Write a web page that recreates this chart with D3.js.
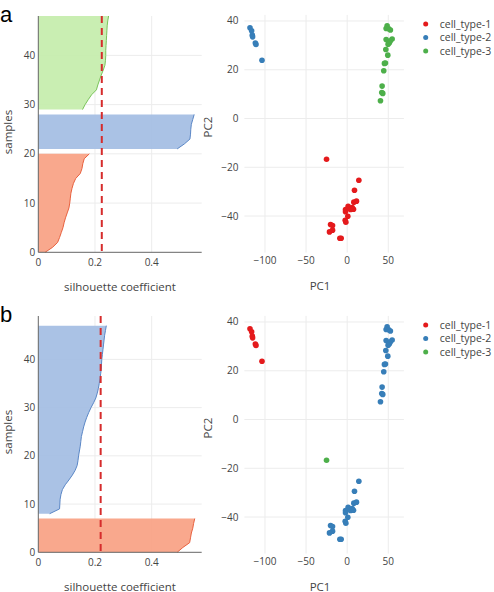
<!DOCTYPE html>
<html>
<head>
<meta charset="utf-8">
<script src="https://cdn.jsdelivr.net/npm/d3@7"></script>
<style>
  body { margin: 0; background: #fff; }
  svg text { font-family: "Open Sans", "DejaVu Sans", sans-serif; fill: #444; }
</style>
</head>
<body>
<div id="chart"></div>
<script>
// ---- data ----
const clusterNames = ['cell_type-1', 'cell_type-2', 'cell_type-3'];
const pointColors = ['#e41a1c', '#377eb8', '#4daf4a'];
const fillColors = ['#f9a183', '#a3bde3', '#c4edab'];
const lineColors = ['#e8613f', '#5b87c6', '#79c35a'];

// PCA coordinates (same samples in both panels)
const pc1 = [-118.2, -116.2, -115.4, -115, -111.7, -110.9, -103.6,
  -25.1,
  14.2, 8.9, 8.1, 11.3, 1.2, 6.1, -2, -2, 4, 7.7, 0.8, -2.4, -1.6, -20.2, -17.8, -17.8, -21.5, -8.9, -7.3,
  48.6, 47.4, 50.6, 52.6, 47.4, 54.7, 52.6, 51.4, 49.8, 47, 49.4, 46.6, 45.3, 44.5, 42.5, 42.1, 43.3, 40.5];
const pc2 = [37.2, 36, 34.2, 33.5, 31, 30.4, 23.9,
  -16.7,
  -25.3, -29.4, -34.3, -33.9, -36, -36.5, -37.3, -38.2, -37.3, -37.2, -40.1, -41.7, -42.5, -43.5, -43.9, -45.8, -46.5, -49.1, -49.1,
  38, 36.9, 36.8, 36.3, 32.4, 32.6, 31.9, 31.1, 30.5, 28.3, 26, 22.8, 22.6, 19.6, 13.3, 10.7, 10.3, 7.3];

// cluster labels (0-based) for panel a and panel b
const labelsA = [1, 1, 1, 1, 1, 1, 1,
  0,
  0, 0, 0, 0, 0, 0, 0, 0, 0, 0, 0, 0, 0, 0, 0, 0, 0, 0, 0,
  2, 2, 2, 2, 2, 2, 2, 2, 2, 2, 2, 2, 2, 2, 2, 2, 2, 2];
const labelsB = [0, 0, 0, 0, 0, 0, 0,
  2,
  1, 1, 1, 1, 1, 1, 1, 1, 1, 1, 1, 1, 1, 1, 1, 1, 1, 1, 1,
  1, 1, 1, 1, 1, 1, 1, 1, 1, 1, 1, 1, 1, 1, 1, 1, 1, 1];

// sorted silhouette values per cluster, with the sample index they start at
const silA1 = [0.024, 0.05, 0.068, 0.075, 0.081, 0.087, 0.091, 0.096, 0.102, 0.108, 0.111,
  0.113, 0.115, 0.119, 0.124, 0.132, 0.148, 0.154, 0.157, 0.162, 0.18];
const silA2 = [0.49, 0.515, 0.535, 0.537, 0.538, 0.54, 0.545, 0.55];
const silA3 = [0.156, 0.165, 0.176, 0.188, 0.205, 0.21, 0.216, 0.222, 0.229, 0.235,
  0.237, 0.238, 0.238, 0.239, 0.24, 0.241, 0.242, 0.243, 0.245, 0.248];
const startA = [0, 21, 29];
const meanA = 0.224;

const silB1 = [0.49, 0.51, 0.534, 0.537, 0.54, 0.545, 0.548, 0.552];
const silB2 = [0.04, 0.075, 0.076, 0.077, 0.08, 0.085, 0.095, 0.108, 0.12, 0.13,
  0.137, 0.14, 0.142, 0.145, 0.148, 0.15, 0.152, 0.156, 0.16, 0.165,
  0.171, 0.178, 0.186, 0.195, 0.203, 0.208, 0.212, 0.215, 0.218, 0.22,
  0.222, 0.223, 0.224, 0.226, 0.228, 0.23, 0.232, 0.234, 0.237, 0.24];
const silB3 = [0];
const startB = [0, 8, 48];
const meanB = 0.22;

const silTicksX = [0, 0.2, 0.4];
const silTicksY = [0, 10, 20, 30, 40];
const pcTicksX = [-100, -50, 0, 50];
const pcTicksY = [-40, -20, 0, 20, 40];

// ---- drawing ----
const svg = d3.select('#chart').append('svg')
    .attr('width', 494)
    .attr('height', 592);

const gridColor = '#ececec';

function drawSilhouette(g, top, yMax, sils, starts, mean) {
  const x = d3.scaleLinear().domain([0, 0.5765]).range([38.3, 201.7]);
  const y = d3.scaleLinear().domain([0, yMax]).range([top + 236.3, top]);
  const [x0, x1] = x.range();
  const [yb, yt] = y.range();

  // grid
  g.selectAll('.vgrid').data(silTicksX.filter(d => d > 0)).join('line')
      .attr('x1', d => x(d)).attr('x2', d => x(d))
      .attr('y1', yt).attr('y2', yb)
      .attr('stroke', gridColor);
  g.selectAll('.hgrid').data(silTicksY.filter(d => d > 0)).join('line')
      .attr('x1', x0).attr('x2', x1)
      .attr('y1', d => y(d)).attr('y2', d => y(d))
      .attr('stroke', gridColor);

  // silhouettes
  sils.forEach((vals, c) => {
    if (vals.length < 2) return;
    const pts = vals.map((v, i) => [v, starts[c] + i]);
    g.append('path')
        .datum(pts)
        .attr('d', d3.area().x0(x(0)).x1(d => x(d[0])).y(d => y(d[1])))
        .attr('fill', fillColors[c])
        .attr('fill-opacity', 0.92);
    g.append('path')
        .datum(pts)
        .attr('d', d3.line().x(d => x(d[0])).y(d => y(d[1])))
        .attr('fill', 'none')
        .attr('stroke', lineColors[c])
        .attr('stroke-width', 1);
  });

  // mean line
  g.append('line')
      .attr('x1', x(mean)).attr('x2', x(mean))
      .attr('y1', yt).attr('y2', yb)
      .attr('stroke', '#d62c2c')
      .attr('stroke-width', 2)
      .attr('stroke-dasharray', '7,5');

  // axis lines
  g.append('line').attr('x1', x0).attr('x2', x0).attr('y1', yt).attr('y2', yb)
      .attr('stroke', '#666').attr('stroke-width', 1);
  g.append('line').attr('x1', x0).attr('x2', x1).attr('y1', yb).attr('y2', yb)
      .attr('stroke', '#666').attr('stroke-width', 1);

  g.selectAll('.xt').data(silTicksX).join('text')
      .attr('x', d => x(d)).attr('y', yb + 14)
      .attr('text-anchor', 'middle')
      .style('font-size', '10px')
      .text(d => d === 0 ? '0' : d.toFixed(1));
  g.selectAll('.yt').data(silTicksY).join('text')
      .attr('x', x0 - 3).attr('y', d => y(d) + 3.5)
      .attr('text-anchor', 'end')
      .style('font-size', '10px')
      .text(d => d);

  g.append('text')
      .attr('x', 120).attr('y', yb + 39)
      .attr('text-anchor', 'middle')
      .style('font-size', '11.5px')
      .text('silhouette coefficient');
  g.append('text')
      .attr('transform', `translate(12,${top + 116}) rotate(-90)`)
      .attr('text-anchor', 'middle')
      .style('font-size', '11.5px')
      .text('samples');
}

function drawScatter(g, top, labels) {
  const x = d3.scaleLinear().domain([-125, 69]).range([244.4, 403.9]);
  const y = d3.scaleLinear().domain([-55, 42.5]).range([top + 252.6, top + 14.9]);
  const [x0, x1] = x.range();
  const [yb, yt] = y.range();

  g.selectAll('.vgrid').data(pcTicksX).join('line')
      .attr('x1', d => x(d)).attr('x2', d => x(d))
      .attr('y1', yt).attr('y2', yb)
      .attr('stroke', gridColor);
  g.selectAll('.hgrid').data(pcTicksY).join('line')
      .attr('x1', x0).attr('x2', x1)
      .attr('y1', d => y(d)).attr('y2', d => y(d))
      .attr('stroke', gridColor);

  const pts = pc1.map((v, i) => ({x: v, y: pc2[i], c: labels[i]}));
  g.selectAll('.pt').data(pts).join('circle')
      .attr('cx', d => x(d.x))
      .attr('cy', d => y(d.y))
      .attr('r', 2.8)
      .attr('fill', d => pointColors[d.c]);

  g.selectAll('.xt').data(pcTicksX).join('text')
      .attr('x', d => x(d)).attr('y', yb + 11.5)
      .attr('text-anchor', 'middle')
      .style('font-size', '10px')
      .text(d => d < 0 ? '\u2212' + Math.abs(d) : d);
  g.selectAll('.yt').data(pcTicksY).join('text')
      .attr('x', 238.5).attr('y', d => y(d) + 3.5)
      .attr('text-anchor', 'end')
      .style('font-size', '10px')
      .text(d => d < 0 ? '\u2212' + Math.abs(d) : d);

  g.append('text')
      .attr('x', 320).attr('y', top + 290)
      .attr('text-anchor', 'middle')
      .style('font-size', '11.5px')
      .text('PC1');
  g.append('text')
      .attr('transform', `translate(212,${top + 127}) rotate(-90)`)
      .attr('text-anchor', 'middle')
      .style('font-size', '11.5px')
      .text('PC2');

  // legend
  const leg = g.selectAll('.leg').data(clusterNames).join('g')
      .attr('transform', (d, i) => `translate(425.7,${top + 24 + i * 13.5})`);
  leg.append('circle').attr('r', 2.5).attr('fill', (d, i) => pointColors[i]);
  leg.append('text').attr('x', 14).attr('y', 3.8)
      .style('font-size', '10.5px')
      .text(d => d);
}

const ga = svg.append('g');
drawSilhouette(ga, 16, 48, [silA1, silA2, silA3], startA, meanA);
drawScatter(svg.append('g'), 0, labelsA);

const gb = svg.append('g');
drawSilhouette(gb, 316, 49, [silB1, silB2, silB3], startB, meanB);
drawScatter(svg.append('g'), 301, labelsB);

svg.append('text').attr('x', 0).attr('y', 22)
    .style('font-family', '"Liberation Sans", Arial, sans-serif')
    .style('font-size', '22px').style('fill', '#000')
    .text('a');
svg.append('text').attr('x', 0).attr('y', 322)
    .style('font-family', '"Liberation Sans", Arial, sans-serif')
    .style('font-size', '22px').style('fill', '#000')
    .text('b');
</script>
</body>
</html>
